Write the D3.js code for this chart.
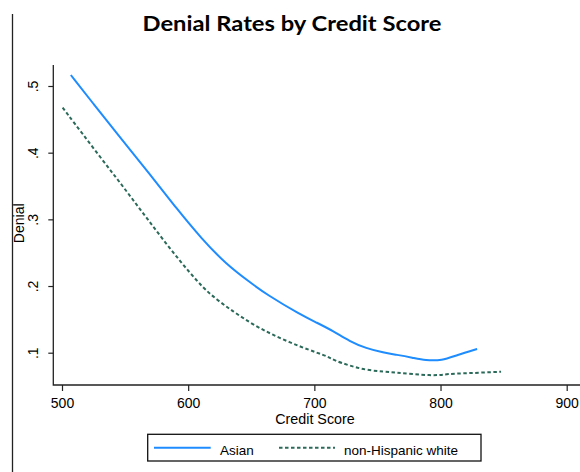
<!DOCTYPE html>
<html>
<head>
<meta charset="utf-8">
<script src="https://cdn.jsdelivr.net/npm/d3@7"></script>
<style>
  html, body { margin: 0; padding: 0; background: #fff; }
  svg { display: block; }
</style>
</head>
<body>
<svg id="chart" width="580" height="472"></svg>
<script>
// Smoothed denial rate by credit score, per group
const asianScore = [507, 525, 543, 570, 590, 611, 630, 649, 662, 689, 702, 715, 728, 741, 755, 765, 778, 788, 801, 813, 829];
const asianDenial = [0.5165, 0.473, 0.430, 0.367, 0.318, 0.270, 0.233, 0.2055, 0.1875, 0.157, 0.145, 0.1325, 0.117, 0.1066, 0.100, 0.097, 0.0925, 0.0885, 0.088, 0.0965, 0.1055];

const whiteScore = [500.5, 530, 555, 580, 609, 623, 636, 649, 662, 675, 689, 702, 711, 715, 728, 741, 755, 765, 778, 792, 800, 805, 818, 831, 848];
const whiteDenial = [0.4675, 0.394, 0.333, 0.269, 0.2015, 0.179, 0.1615, 0.145, 0.1315, 0.12, 0.109, 0.100, 0.094, 0.089, 0.0805, 0.074, 0.0715, 0.070, 0.068, 0.066, 0.0665, 0.068, 0.069, 0.070, 0.0715];

const xTicks = [500, 600, 700, 800, 900];
const yTicks = [0.1, 0.2, 0.3, 0.4, 0.5];
const yTickLabels = [".1", ".2", ".3", ".4", ".5"];
const seriesNames = ["Asian", "non-Hispanic white"];

const svg = d3.select("#chart");
const font = "Arial, 'Liberation Sans', Helvetica, sans-serif";
const blue = "#1e8cff";
const green = "#2b6a58";

const x = d3.scaleLinear().domain([500, 900]).range([62, 566.7]);
const y = d3.scaleLinear().domain([0.1, 0.5]).range([352.7, 86]);

const axisX0 = 53.3, axisY0 = 385, axisTop = 65, axisRight = 580;

// outer border line on the left
svg.append("line")
  .attr("x1", 12.5).attr("x2", 12.5).attr("y1", 14).attr("y2", 472)
  .attr("stroke", "#222").attr("stroke-width", 1.3);

// title
const title = svg.append("text")
  .attr("x", 292).attr("y", 31)
  .attr("text-anchor", "middle")
  .attr("font-family", "Lato, 'Open Sans', sans-serif")
  .attr("font-weight", 700)
  .attr("font-size", 21.5)
  .attr("fill", "#000")
  .text("Denial Rates by Credit Score");
const tw = title.node().getComputedTextLength();
if (Math.abs(tw - 299) > 2) {
  title.attr("textLength", 299).attr("lengthAdjust", "spacingAndGlyphs");
}

// axes
const gx = svg.append("g").attr("transform", `translate(0,${axisY0})`)
  .call(d3.axisBottom(x).tickValues(xTicks).tickSize(6).tickPadding(5).tickFormat(d3.format("d")));
gx.select(".domain").remove();
gx.selectAll(".tick line").attr("stroke", "#222").attr("stroke-width", 1.2);
gx.selectAll(".tick text")
  .attr("font-family", font).attr("font-size", 14).attr("fill", "#000")
  .attr("dy", null).attr("y", 22.7);

const gy = svg.append("g").attr("transform", `translate(${axisX0},0)`)
  .call(d3.axisLeft(y).tickValues(yTicks).tickSize(5).tickFormat((d, i) => yTickLabels[i]));
gy.select(".domain").remove();
gy.selectAll(".tick line").attr("stroke", "#222").attr("stroke-width", 1.2);
gy.selectAll(".tick text")
  .attr("font-family", font).attr("font-size", 14).attr("fill", "#000")
  .attr("x", null).attr("dy", null)
  .attr("text-anchor", "middle")
  .attr("transform", "translate(-15.5,0) rotate(-90)");

svg.append("path")
  .attr("d", `M${axisX0},${axisTop}V${axisY0}H${axisRight}`)
  .attr("fill", "none").attr("stroke", "#222").attr("stroke-width", 1.3);

// axis titles
svg.append("text")
  .attr("x", 315).attr("y", 424.3)
  .attr("text-anchor", "middle")
  .attr("font-family", font).attr("font-size", 14.3).attr("fill", "#000")
  .text("Credit Score");

svg.append("text")
  .attr("transform", "translate(23.5,223.3) rotate(-90)")
  .attr("text-anchor", "middle")
  .attr("font-family", font).attr("font-size", 14).attr("fill", "#000")
  .text("Denial");

// series lines, smoothed through the estimated points
const line = d3.line()
  .x(d => x(d[0])).y(d => y(d[1]))
  .curve(d3.curveBasis);

const asian = asianScore.map((s, i) => [s, asianDenial[i]]);
const white = whiteScore.map((s, i) => [s, whiteDenial[i]]);

svg.append("path").datum(white)
  .attr("d", line).attr("fill", "none")
  .attr("stroke", green).attr("stroke-width", 2)
  .attr("stroke-dasharray", "3.5,2.5");

svg.append("path").datum(asian)
  .attr("d", line).attr("fill", "none")
  .attr("stroke", blue).attr("stroke-width", 2);

// legend
const lg = svg.append("g");
lg.append("rect")
  .attr("x", 147.7).attr("y", 434.3).attr("width", 333.3).attr("height", 26.7)
  .attr("fill", "#fff").attr("stroke", "#111").attr("stroke-width", 1.3);

const legendItems = [
  { name: seriesNames[0], color: blue, dash: null, x0: 154, x1: 210.7, tx: 220 },
  { name: seriesNames[1], color: green, dash: "3.5,2.5", x0: 279, x1: 335, tx: 344 }
];
legendItems.forEach(it => {
  lg.append("line")
    .attr("x1", it.x0).attr("x2", it.x1).attr("y1", 447.7).attr("y2", 447.7)
    .attr("stroke", it.color).attr("stroke-width", 2)
    .attr("stroke-dasharray", it.dash);
  lg.append("text")
    .attr("x", it.tx).attr("y", 454.5)
    .attr("font-family", font).attr("font-size", 13.5).attr("fill", "#000")
    .text(it.name);
});
</script>
</body>
</html>
